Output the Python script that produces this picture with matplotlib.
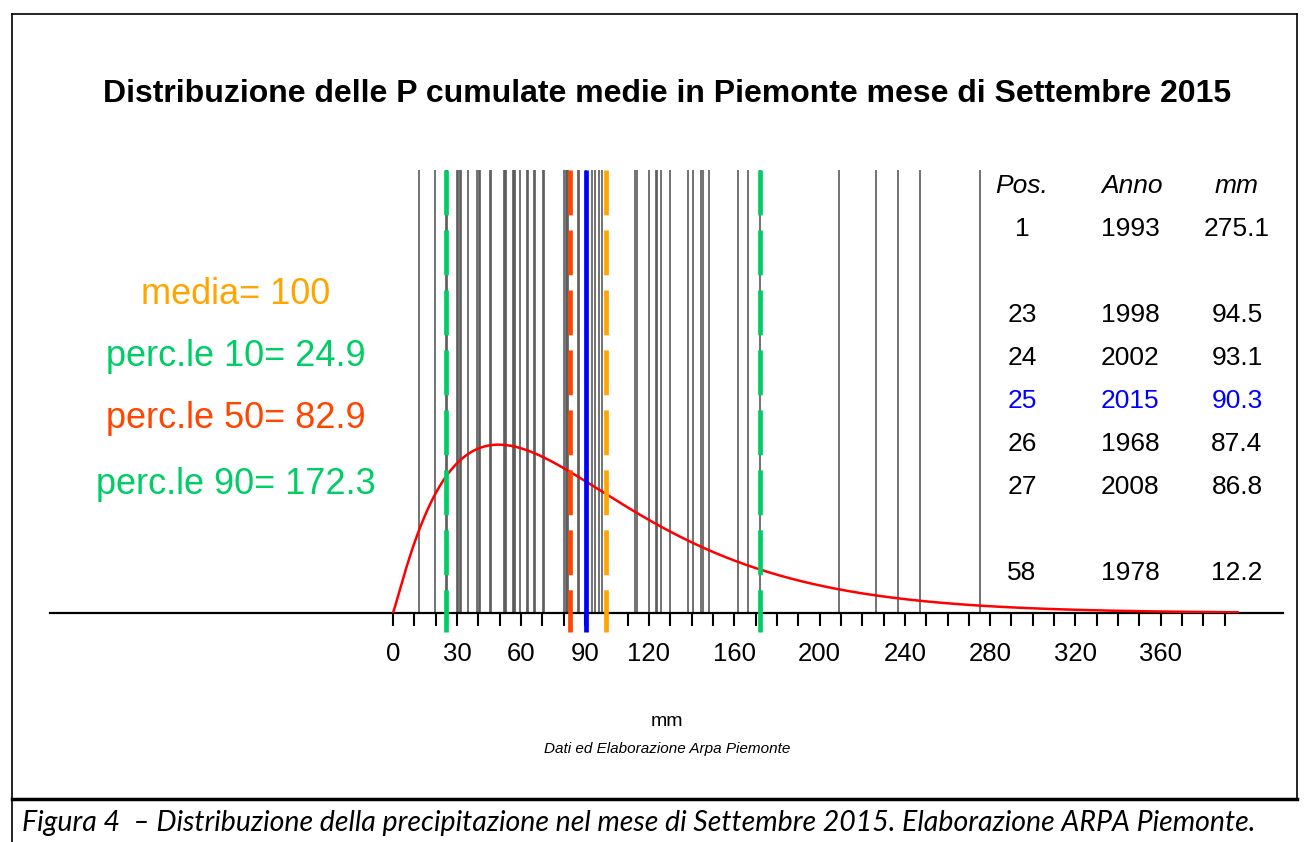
import math
import numpy as np
import matplotlib
matplotlib.use('agg')
import matplotlib.pyplot as plt

plt.rcParams['font.family'] = ['Liberation Sans', 'DejaVu Sans']

# precipitazioni cumulate medie di settembre in Piemonte, un valore per anno (mm)
valori = [275.1, 246.9, 236.6, 226.4, 208.9, 172.3, 166.4, 162.0, 148.4, 145.3,
          144.4, 140.5, 138.1, 130.0, 125.6, 124.0, 123.3, 120.2, 114.4, 113.6,
          98.0, 96.4, 94.5, 93.1, 90.3, 87.4, 86.8, 82.1, 81.5, 80.9,
          80.3, 70.8, 70.3, 66.4, 65.9, 63.3, 62.8, 59.7, 57.3, 56.8,
          56.1, 53.0, 52.5, 51.9, 45.8, 45.3, 41.0, 40.5, 39.4, 35.0,
          32.0, 31.2, 30.5, 29.8, 25.5, 24.9, 19.8, 12.2]

media = 100
perc10 = 24.9
perc50 = 82.9
perc90 = 172.3
valore_2015 = 90.3

# tabella delle posizioni
tab_pos = [1, 23, 24, 25, 26, 27, 58]
tab_anno = [1993, 1998, 2002, 2015, 1968, 2008, 1978]
tab_mm = [275.1, 94.5, 93.1, 90.3, 87.4, 86.8, 12.2]

# distribuzione gamma adattata
gamma_forma = 2.1
gamma_scala = 45.0
fine_curva = 396

tick_etichette = [0, 30, 60, 90, 120, 160, 200, 240, 280, 320, 360]

W, H = 1308, 842
fig = plt.figure(figsize=(W / 100, H / 100), dpi=100)


def fx(x):
    return x / W


def fy(y):
    return 1 - y / H


def testo(x, y, s, **kw):
    fig.text(fx(x), fy(y), s, ha='center', va='center', **kw)


# cornice
bordo = dict(color='black', lw=1.2, transform=fig.transFigure)
fig.add_artist(plt.Line2D([fx(12), fx(1297)], [fy(14), fy(14)], **bordo))
fig.add_artist(plt.Line2D([fx(12), fx(12)], [fy(14), fy(842)], **bordo))
fig.add_artist(plt.Line2D([fx(1297), fx(1297)], [fy(14), fy(799)], **bordo))
fig.add_artist(plt.Line2D([fx(12), fx(1297)], [fy(799), fy(799)],
                          color='black', lw=2.5, transform=fig.transFigure))

ax = fig.add_axes([fx(50), fy(613), fx(1283) - fx(50), fy(170) - fy(613)])
ax.set_xlim(-160.8, 417.3)
ax.set_ylim(0, 1)
for s in ['left', 'right', 'top']:
    ax.spines[s].set_visible(False)
ax.spines['bottom'].set_linewidth(1.6)
ax.set_yticks([])
ax.set_xticks(range(0, 400, 10),
              labels=[str(t) if t in tick_etichette else '' for t in range(0, 400, 10)])
ax.tick_params(axis='x', length=9, width=1.5, labelsize=18.5, pad=12)
ax.patch.set_alpha(0)

# anni
ax.vlines(valori, 0, 1, color='#5a5a5a', lw=1.2, zorder=1)

# curva
xs = np.linspace(0, fine_curva, 500)
dens = np.array([x ** (gamma_forma - 1) * math.exp(-x / gamma_scala) for x in xs])
dens = dens / (math.gamma(gamma_forma) * gamma_scala ** gamma_forma)
ax.plot(xs, dens / dens.max() * 0.38, color='red', lw=1.8, zorder=3)

# linee statistiche, tratteggio che parte dall'alto
tratteggio = (0, (9.5, 3.2))
for v, col, ls in [(perc10, '#00CD66', tratteggio), (perc90, '#00CD66', tratteggio),
                   (perc50, '#FF4500', tratteggio), (media, '#FFA500', tratteggio),
                   (valore_2015, 'blue', '-')]:
    ax.plot([v, v], [1, -0.043], color=col, lw=3.4, ls=ls, zorder=4, clip_on=False,
            solid_capstyle='butt', dash_capstyle='butt')

# titoli
testo(667, 94, 'Distribuzione delle P cumulate medie in Piemonte mese di Settembre 2015',
      fontsize=23, fontweight='bold')
testo(667, 722, 'mm', fontsize=14)
testo(667, 749, 'Dati ed Elaborazione Arpa Piemonte', fontsize=11, style='italic')

# statistiche
testo(236, 295, 'media= %g' % media, fontsize=26, color='#FFA500')
testo(236, 356, 'perc.le 10= %g' % perc10, fontsize=26, color='#00CD66')
testo(236, 418, 'perc.le 50= %g' % perc50, fontsize=26, color='#FF4500')
testo(236, 485, 'perc.le 90= %g' % perc90, fontsize=26, color='#00CD66')

# tabella
testo(1022, 186, 'Pos.', fontsize=19, style='italic')
testo(1132, 186, 'Anno', fontsize=19, style='italic')
testo(1237, 186, 'mm', fontsize=19, style='italic')
righe = [0, 2, 3, 4, 5, 6, 8]
for r, p, a, m in zip(righe, tab_pos, tab_anno, tab_mm):
    c = 'blue' if a == 2015 else 'black'
    y = 229 + r * 43
    testo(1022, y, str(p), fontsize=19, color=c)
    testo(1130, y, str(a), fontsize=19, color=c)
    testo(1237, y, '%.1f' % m, fontsize=19, color=c)

fig.text(fx(22), fy(823), 'Figura 4  \u2013 Distribuzione della precipitazione nel mese di Settembre 2015. Elaborazione ARPA Piemonte.',
         ha='left', va='center', fontsize=20.5, style='italic', family=['Lato', 'DejaVu Sans'])

plt.savefig('out.png', dpi=100)
